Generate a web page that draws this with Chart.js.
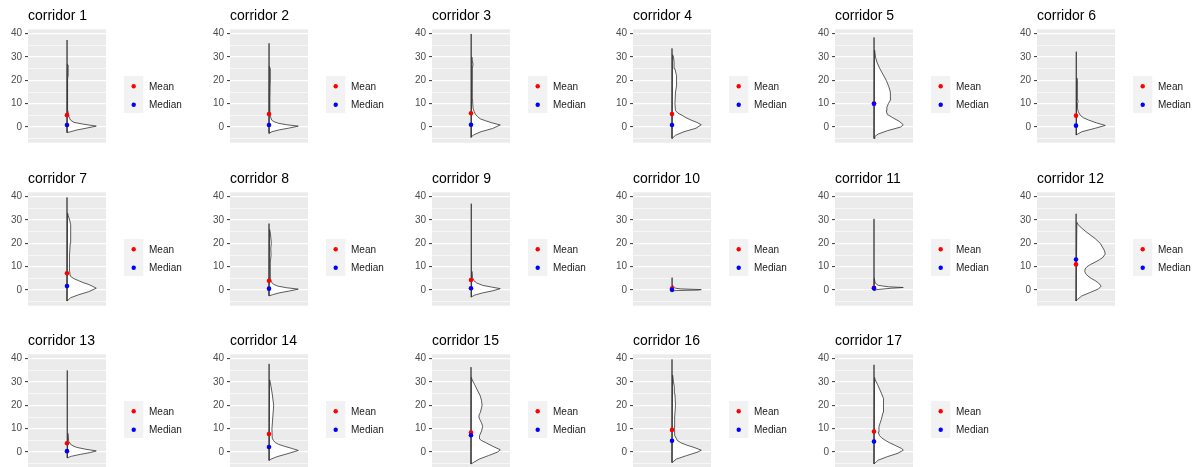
<!DOCTYPE html>
<html>
<head>
<meta charset="utf-8">
<script src="https://cdn.jsdelivr.net/npm/chart.js@4.4.0/dist/chart.umd.min.js"></script>
<style>
  body { margin: 0; background: #fff; width: 1198px; height: 467px; overflow: hidden; position: relative; }
  .panel { position: absolute; }
</style>
</head>
<body>
<script>
const corridors = ['corridor 1', 'corridor 2', 'corridor 3', 'corridor 4', 'corridor 5', 'corridor 6',
    'corridor 7', 'corridor 8', 'corridor 9', 'corridor 10', 'corridor 11', 'corridor 12',
    'corridor 13', 'corridor 14', 'corridor 15', 'corridor 16', 'corridor 17'];
const meanValues = [5.1, 5.6, 5.9, 5.6, 10.1, 4.9, 7.2, 4.0, 4.3, 0.6, 1.0, 11.0, 3.8, 7.7, 8.4, 9.5, 8.8];
const medianValues = [0.9, 0.9, 1.0, 0.9, 10.0, 0.6, 1.7, 0.6, 0.8, 0.1, 0.8, 13.1, 0.4, 2.2, 7.2, 4.8, 4.5];
const yTicks = [-5, 0, 5, 10, 15, 20, 25, 30, 35, 40];
const legendLabels = ['Mean', 'Median'];

// half violins: [y, relative width]
const violin1 = [[-2.4,0],[-2,0.12],[-1.3,0.32],[-0.5,0.65],[0.4,1],[1.3,0.53],[2,0.24],[3,0.12],[4.5,0.06],[7,0.03],[12,0.02],[21,0.02],[22,0.04],[26.5,0.04],[27,0.01],[32,0.005],[37.3,0]];
const violin2 = [[-2.7,0],[-2,0.1],[-1.2,0.35],[-0.4,0.7],[0.4,1],[1,0.6],[1.6,0.33],[2.3,0.17],[3,0.09],[4.5,0.05],[6,0.03],[12,0.03],[19,0.04],[20,0.05],[25,0.04],[26,0.01],[30,0.005],[35.9,0]];
const violin3 = [[-4.4,0],[-3.4,0.08],[-2,0.34],[-0.6,0.74],[0.9,1],[1.8,0.72],[2.7,0.5],[3.5,0.32],[4.4,0.23],[5.5,0.15],[6.6,0.11],[8,0.07],[12,0.05],[20,0.04],[25,0.05],[27,0.07],[28.5,0.04],[30,0.03],[35,0.02],[39.9,0]];
const violin4 = [[-4.9,0],[-3.5,0.12],[-2,0.41],[-0.5,0.82],[1,1],[2,0.85],[3,0.65],[4,0.48],[5,0.35],[6,0.2],[7,0.12],[10,0.1],[15,0.12],[18,0.16],[20,0.17],[22,0.14],[25,0.1],[28,0.07],[30,0.05],[31,0.02],[33.7,0]];
const violin5 = [[-4.9,0],[-4,0.03],[-3,0.14],[-1.5,0.47],[0,0.91],[1,1],[2.5,0.86],[4,0.64],[5.5,0.45],[7,0.42],[8.5,0.44],[10,0.49],[12,0.58],[15,0.56],[17.5,0.5],[20,0.42],[22.5,0.31],[25,0.2],[27.5,0.11],[30,0.05],[33,0.02],[35,0.005],[38.4,0]];
const violin6 = [[-3.4,0],[-2,0.2],[-0.5,0.66],[0.7,1],[1.8,0.7],[3,0.43],[4,0.25],[5,0.15],[6.5,0.08],[8,0.05],[10,0.05],[11,0.07],[12,0.05],[14,0.04],[20,0.05],[21,0.03],[28,0.03],[29,0.01],[32.3,0]];
const violin7 = [[-4.7,0],[-3.3,0.12],[-2,0.4],[-0.7,0.74],[0.8,1],[1.7,0.86],[2.5,0.72],[3.2,0.55],[4,0.4],[5,0.22],[6,0.11],[8,0.09],[10,0.08],[15,0.09],[20,0.11],[25,0.13],[28,0.12],[30,0.09],[32,0.04],[33,0.02],[39.7,0]];
const violin8 = [[-2.5,0],[-2,0.12],[-1.2,0.35],[-0.4,0.7],[0.4,1],[1,0.6],[1.7,0.3],[2.5,0.15],[3.5,0.08],[5,0.05],[8,0.04],[12,0.05],[15,0.07],[18,0.06],[20,0.08],[24,0.05],[26,0.02],[28.5,0]];
const violin9 = [[-3,0],[-2.2,0.12],[-1.2,0.4],[-0.3,0.75],[0.6,1],[1.3,0.7],[2,0.4],[3,0.2],[4,0.1],[5.5,0.05],[8,0.03],[15,0.02],[25,0.02],[30,0.01],[37,0]];
const violin10 = [[-0.4,0],[-0.2,0.15],[0,0.9],[0.2,1],[0.5,0.3],[0.8,0.12],[1.2,0.08],[2,0.02],[3,0.01],[5.3,0]];
const violin11 = [[-0.3,0],[0.2,0.1],[0.8,0.6],[1.1,1],[1.4,0.5],[2,0.15],[3,0.04],[5,0.01],[30.5,0]];
const violin12 = [[-4.7,0],[-4,0.05],[-2.5,0.2],[-1,0.49],[0.5,0.77],[1.7,0.86],[3,0.77],[4,0.66],[5,0.52],[6,0.41],[7,0.33],[8,0.3],[9,0.31],[10,0.375],[11,0.5],[12,0.66],[13,0.8],[14,0.92],[15.5,1],[17,0.97],[18.5,0.9],[20,0.83],[22,0.66],[23.5,0.5],[25,0.34],[26.5,0.2],[28,0.07],[29,0.03],[30,0.01],[32.7,0]];
const violin13 = [[-2.5,0],[-1.8,0.15],[-1,0.45],[-0.2,0.8],[0.5,1],[1.2,0.65],[2,0.33],[3,0.15],[4.5,0.06],[8,0.03],[15,0.02],[21,0.02],[25,0.01],[35,0]];
const violin14 = [[-3.6,0],[-3,0.07],[-2,0.27],[-0.5,0.69],[0.7,1],[1.5,0.8],[2.5,0.52],[3.3,0.33],[4,0.22],[5,0.15],[6,0.11],[10,0.1],[15,0.13],[20,0.16],[25,0.11],[28,0.07],[30,0.04],[31,0.02],[33,0.01],[37.8,0]];
const violin15 = [[-5.1,0],[-4.5,0.08],[-3,0.28],[-1.5,0.6],[0,0.91],[1,1],[2.5,0.74],[4,0.51],[5,0.35],[5.8,0.28],[7,0.29],[9,0.36],[11,0.4],[12.5,0.36],[14,0.3],[15,0.27],[16,0.28],[17,0.32],[20,0.38],[22,0.36],[24,0.32],[27,0.2],[29,0.12],[30,0.08],[31,0.04],[32,0.01],[36.4,0]];
const violin16 = [[-4.5,0],[-3,0.15],[-1.5,0.5],[0,0.88],[0.8,1],[2,0.75],[3,0.5],[4,0.3],[5,0.18],[7,0.1],[10,0.08],[15,0.1],[20,0.12],[25,0.1],[28,0.08],[30,0.05],[33,0.02],[39.7,0]];
const violin17 = [[-5.1,0],[-3.5,0.14],[-2,0.45],[-0.5,0.82],[0.8,1],[1.5,0.95],[3,0.7],[4,0.53],[5,0.39],[6,0.27],[7,0.19],[8.5,0.14],[11,0.17],[14,0.25],[17,0.31],[20,0.34],[23,0.31],[25,0.26],[27,0.19],[29,0.12],[30,0.08],[31,0.04],[32,0.02],[37.4,0]];
const violins = [violin1, violin2, violin3, violin4, violin5, violin6, violin7, violin8, violin9,
    violin10, violin11, violin12, violin13, violin14, violin15, violin16, violin17];

const colWidth = 201.8;
const rowHeight = 162.7;
const nCols = 6;

Chart.defaults.font.family = '"Liberation Sans", Arial, sans-serif';

// grey panel like ggplot
const panelBackground = {
    id: 'panelBackground',
    beforeDraw(chart) {
        const a = chart.chartArea;
        const ctx = chart.ctx;
        ctx.save();
        ctx.fillStyle = '#EBEBEB';
        ctx.fillRect(a.left, a.top, a.right - a.left, a.bottom - a.top);
        ctx.restore();
    }
};

// legend with grey key box, right of the panel
const sideLegend = {
    id: 'sideLegend',
    afterDraw(chart) {
        const ctx = chart.ctx;
        const kx = chart.chartArea.right + 18;
        const ky = 76;
        const colors = ['#FF0000', '#0000FF'];
        ctx.save();
        ctx.fillStyle = '#F2F2F2';
        ctx.fillRect(kx, ky, 19.3, 37);
        legendLabels.forEach((label, i) => {
            const cy = ky + 10.3 + i * 18.5;
            ctx.fillStyle = colors[i];
            ctx.beginPath();
            ctx.arc(kx + 9.7, cy, 2.2, 0, Math.PI * 2);
            ctx.fill();
            ctx.fillStyle = '#1A1A1A';
            ctx.font = '10px "Liberation Sans", Arial, sans-serif';
            ctx.textBaseline = 'middle';
            ctx.fillText(label, kx + 25, cy + 0.5);
        });
        ctx.restore();
    }
};

function violinOutline(profile) {
    // right half, closed back along x = 1
    const pts = profile.map(p => ({x: 1 + 0.45 * p[1], y: p[0]}));
    pts.push({x: 1, y: profile[0][0]});
    return pts;
}

corridors.forEach((name, i) => {
    const div = document.createElement('div');
    div.className = 'panel';
    div.style.left = Math.round((i % nCols) * colWidth) + 'px';
    div.style.top = Math.round(Math.floor(i / nCols) * rowHeight) + 'px';
    const canvas = document.createElement('canvas');
    canvas.width = 195;
    canvas.height = 163;
    div.appendChild(canvas);
    document.body.appendChild(div);

    new Chart(canvas.getContext('2d'), {
        type: 'scatter',
        data: {
            datasets: [{
                label: 'Median',
                data: [{x: 1, y: medianValues[i]}],
                backgroundColor: '#0000FF',
                borderWidth: 0,
                pointRadius: 2.3
            }, {
                label: 'Mean',
                data: [{x: 1, y: meanValues[i]}],
                backgroundColor: '#FF0000',
                borderWidth: 0,
                pointRadius: 2.3
            }, {
                label: 'density',
                data: violinOutline(violins[i]),
                showLine: true,
                fill: 'shape',
                backgroundColor: '#FFFFFF',
                borderColor: '#333333',
                borderWidth: 0.8,
                pointRadius: 0,
                tension: 0
            }]
        },
        options: {
            responsive: false,
            animation: false,
            events: [],
            devicePixelRatio: 1,
            layout: { padding: { left: 0, right: 195 - 106, top: 0, bottom: 163 - 142.7 } },
            scales: {
                x: { type: 'linear', min: 0.4, max: 1.6, display: false },
                y: {
                    min: -6.7,
                    max: 41.9,
                    afterBuildTicks: s => { s.ticks = yTicks.map(v => ({value: v})); },
                    afterFit: s => { s.width = 28; },
                    border: { display: false },
                    grid: {
                        color: '#FFFFFF',
                        lineWidth: c => (c.tick && c.tick.value % 10 === 0) ? 1.2 : 0.6,
                        tickLength: 3,
                        tickWidth: 1,
                        tickColor: c => (c.tick && c.tick.value % 10 === 0) ? '#333333' : 'rgba(0,0,0,0)'
                    },
                    ticks: {
                        autoSkip: false,
                        padding: 3,
                        color: '#4D4D4D',
                        font: { size: 10 },
                        callback: v => v % 10 === 0 ? v : ''
                    }
                }
            },
            plugins: {
                legend: { display: false },
                tooltip: { enabled: false },
                title: {
                    display: true,
                    text: name,
                    align: 'start',
                    fullSize: false,
                    color: '#000000',
                    font: { size: 14, weight: 'normal' },
                    padding: { top: 7.4, bottom: 5.1 }
                }
            }
        },
        plugins: [panelBackground, sideLegend]
    });
});
</script>
</body>
</html>
